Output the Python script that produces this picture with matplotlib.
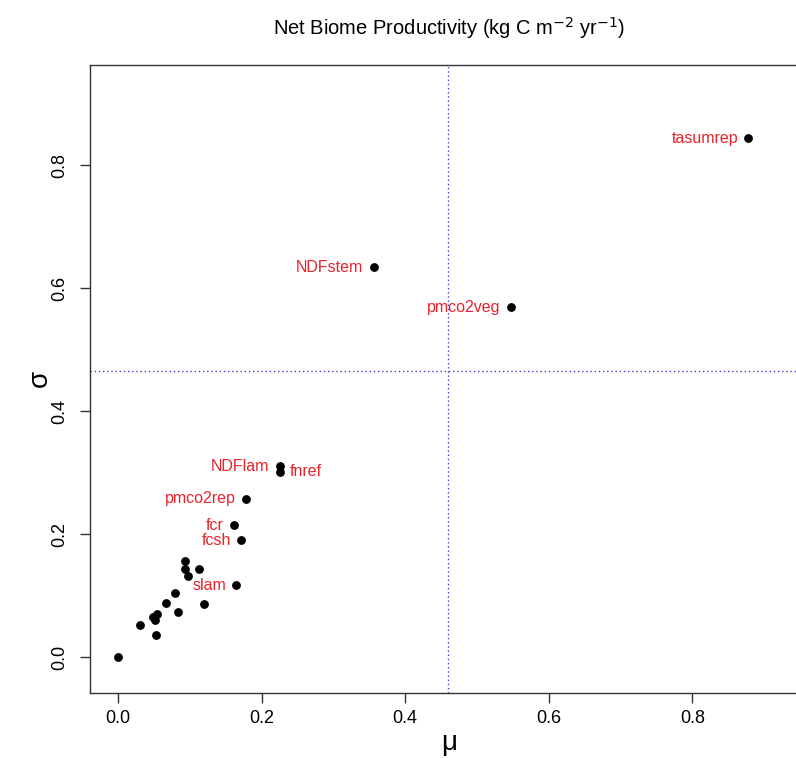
import matplotlib
matplotlib.use("Agg")
import matplotlib.pyplot as plt

plt.rcParams['font.family'] = ['Liberation Sans', 'DejaVu Sans']

# labelled points
labels = ["tasumrep", "NDFstem", "pmco2veg", "NDFlam", "fnref", "pmco2rep", "fcr", "fcsh", "slam"]
lab_mu = [0.878, 0.356, 0.547, 0.225, 0.225, 0.178, 0.161, 0.172, 0.165]
lab_sigma = [0.844, 0.634, 0.569, 0.311, 0.302, 0.258, 0.215, 0.190, 0.117]
lab_side = ["left", "left", "left", "left", "right", "left", "left", "left", "left"]

# unlabelled points
mu = [0.094, 0.093, 0.113, 0.097, 0.080, 0.067, 0.120, 0.083, 0.054, 0.049, 0.051, 0.031, 0.053, 0.0]
sigma = [0.157, 0.144, 0.144, 0.132, 0.104, 0.088, 0.087, 0.073, 0.070, 0.066, 0.060, 0.052, 0.036, 0.0]

mu_threshold = 0.46
sigma_threshold = 0.465

xticks = [0.0, 0.2, 0.4, 0.6, 0.8]
yticks = [0.0, 0.2, 0.4, 0.6, 0.8]

W, H = 796, 758
fig = plt.figure(figsize=(W / 100, H / 100), dpi=100)
ax = fig.add_axes([90 / W, 1 - 693 / H, (808 - 90) / W, (693 - 65) / H])

ax.scatter(mu + lab_mu, sigma + lab_sigma, s=40, color='black', zorder=3, linewidths=0)
for name, x, y, side in zip(labels, lab_mu, lab_sigma, lab_side):
    off = -7.5 if side == "left" else 7.5
    ax.annotate(name, (x, y), xytext=(off, 0), textcoords='offset points',
                ha='right' if side == "left" else 'left', va='center',
                color='#e8232b', fontsize=11.5)

ax.axvline(mu_threshold, color='#4040e0', linestyle=(0, (1, 2)), linewidth=1)
ax.axhline(sigma_threshold, color='#4040e0', linestyle=(0, (1, 2)), linewidth=1)

ax.set_xlim(-0.039, 0.961)
ax.set_ylim(-0.058, 0.963)
ax.set_xticks(xticks)
ax.set_yticks(yticks)
ax.set_xticklabels([f"{v:.1f}" for v in xticks], fontsize=13)
ax.set_yticklabels([f"{v:.1f}" for v in yticks], fontsize=13, rotation=90, va='center')
ax.tick_params(direction='out', length=7, width=1, color='#333333')
ax.tick_params(axis='x', pad=5)
ax.tick_params(axis='y', pad=9)
for sp in ax.spines.values():
    sp.set_color('#333333')
    sp.set_linewidth(1)

fig.text(449 / W, 1 - 743 / H, "μ", ha='center', va='center', fontsize=20)
fig.text(40 / W, 1 - 378 / H, "σ", ha='center', va='center', fontsize=20, rotation=90)
fig.text(449 / W, 1 - 28 / H, r"Net Biome Productivity (kg C m$^{-2}$ yr$^{-1}$)",
         ha='center', va='center', fontsize=14.5)

fig.savefig("out.png", dpi=100)
